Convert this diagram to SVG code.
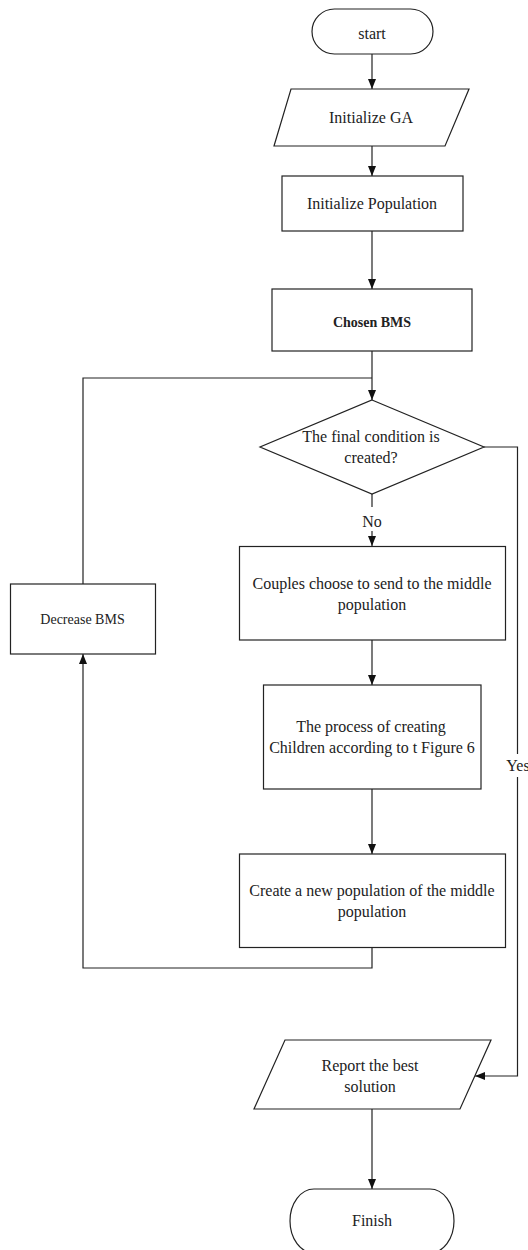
<svg xmlns="http://www.w3.org/2000/svg" width="528" height="1250" viewBox="0 0 528 1250">
<style>
.s{fill:#fff;stroke:#222;stroke-width:1.2}
.c{fill:none;stroke:#222;stroke-width:1.2}
text{font-family:"Liberation Serif","Times New Roman",serif;font-size:16px;fill:#222;text-anchor:middle}
.b{font-weight:bold;font-size:14px}
.m{font-size:14px}
</style>
<defs>
<marker id="ah" markerUnits="userSpaceOnUse" markerWidth="10" markerHeight="8" refX="10" refY="4" orient="auto">
<path d="M0,0 L10,4 L0,8 z" fill="#111"/>
</marker>
</defs>
<rect width="528" height="1250" fill="#fff"/>
<g id="connectors">
<line class="c" x1="372" y1="54" x2="372" y2="89" marker-end="url(#ah)"/>
<line class="c" x1="372" y1="146" x2="372" y2="176" marker-end="url(#ah)"/>
<line class="c" x1="372" y1="231" x2="372" y2="289" marker-end="url(#ah)"/>
<line class="c" x1="372" y1="351" x2="372" y2="400" marker-end="url(#ah)"/>
<line class="c" x1="372" y1="494" x2="372" y2="507"/>
<line class="c" x1="372" y1="531" x2="372" y2="546" marker-end="url(#ah)"/>
<line class="c" x1="372" y1="640" x2="372" y2="685" marker-end="url(#ah)"/>
<line class="c" x1="372" y1="789" x2="372" y2="854" marker-end="url(#ah)"/>
<polyline class="c" points="372,947 372,968 83,968 83,654" marker-end="url(#ah)"/>
<polyline class="c" points="83,584 83,378 372,378"/>
<polyline class="c" points="484,447 517.5,447 517.5,754"/>
<polyline class="c" points="517.5,777 517.5,1076 475,1076" marker-end="url(#ah)"/>
<line class="c" x1="372" y1="1109" x2="372" y2="1189" marker-end="url(#ah)"/>
<text x="372" y="526.5">No</text>
<text x="518" y="770.5">Yes</text>
</g>
<g id="start">
<rect class="s" x="312" y="9" width="121" height="45" rx="22.5"/>
<text x="372" y="38.5">start</text>
</g>
<g id="initGA">
<polygon class="s" points="291,89 469,89 445,146 274,146"/>
<text x="371" y="122.8">Initialize GA</text>
</g>
<g id="initPop">
<rect class="s" x="282" y="176" width="181" height="55"/>
<text x="372" y="208.8">Initialize Population</text>
</g>
<g id="chosen">
<rect class="s" x="272" y="289" width="200" height="62"/>
<text class="b" x="372" y="326.5">Chosen BMS</text>
</g>
<g id="cond">
<polygon class="s" points="372,400 484,447 372,494 260,447"/>
<text x="371" y="441.5">The final condition is</text>
<text x="371" y="462.5">created?</text>
</g>
<g id="couples">
<rect class="s" x="239.5" y="546.5" width="266" height="93.5"/>
<text x="372" y="588.5">Couples choose to send to the middle</text>
<text x="372" y="610">population</text>
</g>
<g id="decrease">
<rect class="s" x="10.5" y="584" width="145" height="70"/>
<text class="m" x="82.5" y="624">Decrease BMS</text>
</g>
<g id="process">
<rect class="s" x="263.5" y="685" width="217.5" height="104"/>
<text x="371" y="732.3">The process of creating</text>
<text x="372" y="753">Children according to t Figure 6</text>
</g>
<g id="create">
<rect class="s" x="239.5" y="854" width="266" height="93.5"/>
<text x="372" y="895.5">Create a new population of the middle</text>
<text x="372" y="916.5">population</text>
</g>
<g id="report">
<polygon class="s" points="285,1040 491,1040 460,1109 254,1109"/>
<text x="370" y="1070.5">Report the best</text>
<text x="370" y="1091.5">solution</text>
</g>
<g id="finish">
<rect class="s" x="290" y="1189" width="164" height="64" rx="24" ry="32"/>
<text x="372" y="1225.5">Finish</text>
</g>
</svg>
